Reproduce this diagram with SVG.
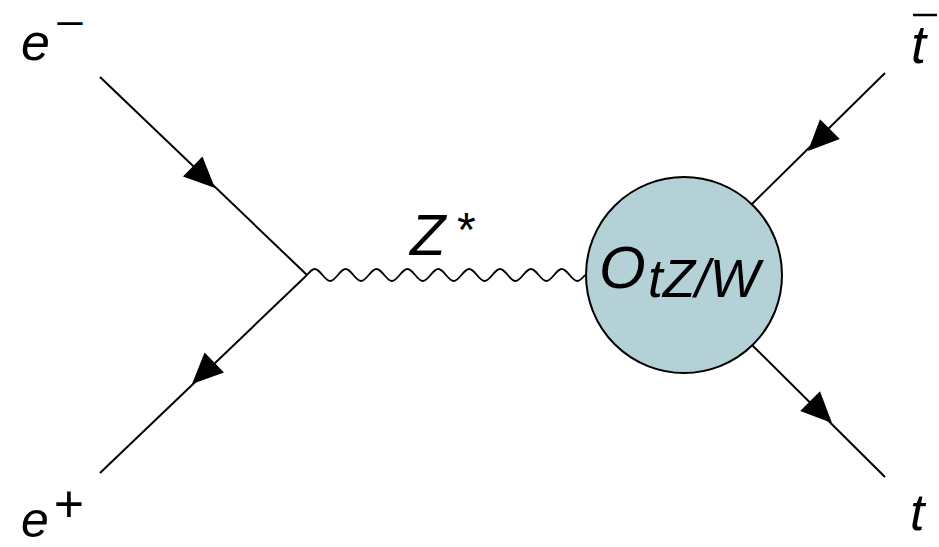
<svg xmlns="http://www.w3.org/2000/svg" width="939" height="547" viewBox="0 0 939 547">
  <style>
    .lbl { font-family: "Liberation Sans", Arial, sans-serif; font-style: italic; fill: #000; }
    .sym { font-family: "Liberation Sans", Arial, sans-serif; fill: #000; }
    .fermion { stroke: #000; stroke-width: 2; fill: none; }
    .boson { stroke: #000; stroke-width: 1.8; fill: none; }
  </style>
  <defs>
    <polygon id="arrow" points="0,0 -31,-14 -31,14" fill="#000"/>
  </defs>
  <rect width="939" height="547" fill="#fff"/>
  <g id="connectors">
    <line class="fermion" x1="100" y1="77" x2="307" y2="275"/>
    <line class="fermion" x1="100" y1="473" x2="307" y2="275"/>
    <line class="fermion" x1="885" y1="73" x2="752" y2="204"/>
    <line class="fermion" x1="752" y1="345" x2="885" y2="477"/>
    <use href="#arrow" transform="translate(215,188) rotate(44)"/>
    <use href="#arrow" transform="translate(192,384) rotate(136)"/>
    <use href="#arrow" transform="translate(808,151) rotate(135)"/>
    <use href="#arrow" transform="translate(832,423) rotate(45)"/>
    <path class="boson" d="M307,275
      c2.518,-3.074 4.928,-6 7.722,-6 c2.794,0 5.204,2.926 7.722,6 c2.518,3.074 4.928,6 7.722,6 c2.794,0 5.204,-2.926 7.722,-6
      c2.518,-3.074 4.928,-6 7.722,-6 c2.794,0 5.204,2.926 7.722,6 c2.518,3.074 4.928,6 7.722,6 c2.794,0 5.204,-2.926 7.722,-6
      c2.518,-3.074 4.928,-6 7.722,-6 c2.794,0 5.204,2.926 7.722,6 c2.518,3.074 4.928,6 7.722,6 c2.794,0 5.204,-2.926 7.722,-6
      c2.518,-3.074 4.928,-6 7.722,-6 c2.794,0 5.204,2.926 7.722,6 c2.518,3.074 4.928,6 7.722,6 c2.794,0 5.204,-2.926 7.722,-6
      c2.518,-3.074 4.928,-6 7.722,-6 c2.794,0 5.204,2.926 7.722,6 c2.518,3.074 4.928,6 7.722,6 c2.794,0 5.204,-2.926 7.722,-6
      c2.518,-3.074 4.928,-6 7.722,-6 c2.794,0 5.204,2.926 7.722,6 c2.518,3.074 4.928,6 7.722,6 c2.794,0 5.204,-2.926 7.722,-6
      c2.518,-3.074 4.928,-6 7.722,-6 c2.794,0 5.204,2.926 7.722,6 c2.518,3.074 4.928,6 7.722,6 c2.794,0 5.204,-2.926 7.722,-6
      c2.518,-3.074 4.928,-6 7.722,-6 c2.794,0 5.204,2.926 7.722,6 c2.518,3.074 4.928,6 7.722,6 c2.794,0 5.204,-2.926 7.722,-6
      c2.518,-3.074 4.928,-6 7.722,-6 c2.794,0 5.204,2.926 7.722,6 c2.518,3.074 4.928,6 7.722,6 c2.794,0 5.204,-2.926 7.722,-6"/>
  </g>
  <g id="label-eminus">
    <text class="lbl" x="21" y="60" font-size="52">e</text>
    <text class="sym" font-size="40" text-anchor="middle" transform="translate(70,37) scale(1.3,1)">−</text>
  </g>
  <g id="label-eplus">
    <text class="lbl" x="21" y="537" font-size="50">e</text>
    <text class="sym" x="69" y="522" font-size="52" text-anchor="middle">+</text>
  </g>
  <g id="label-tbar">
    <text class="lbl" x="911" y="63" font-size="54">t</text>
    <line x1="913" y1="15" x2="937" y2="15" stroke="#000" stroke-width="2.5"/>
  </g>
  <g id="label-t">
    <text class="lbl" x="910" y="530" font-size="52">t</text>
  </g>
  <g id="label-zstar">
    <text class="lbl" x="410" y="255" font-size="58">Z</text>
    <text class="sym" x="457" y="246" font-size="48">*</text>
  </g>
  <g id="node-otzw">
    <circle cx="684" cy="275" r="98" fill="#b3d1d6" stroke="#000" stroke-width="2"/>
    <text class="lbl" x="599" y="288" font-size="60">O</text>
    <text class="lbl" x="648" y="297" font-size="53">tZ/W</text>
  </g>
</svg>
